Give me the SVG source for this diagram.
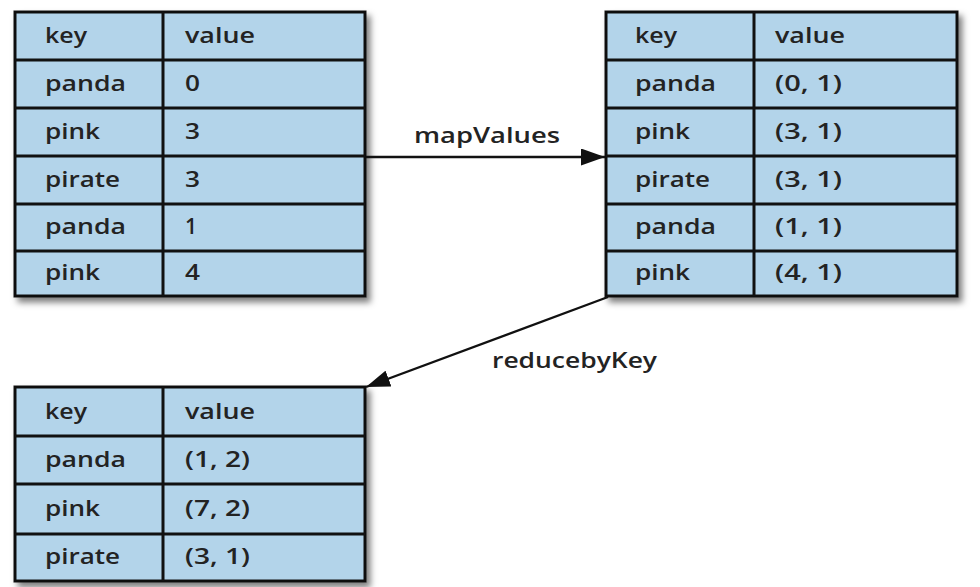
<svg xmlns="http://www.w3.org/2000/svg" width="980" height="587" viewBox="0 0 980 587">
<style>
.cell{fill:#b3d4ea;stroke:#111;stroke-width:3}
.ln{stroke:#111;stroke-width:3;fill:none}
.t{font-family:"Open Sans","DejaVu Sans",sans-serif;font-size:22px;font-weight:600;fill:#232323}
.conn{stroke:#111;stroke-width:2.4;fill:none}
</style>
<defs>
<filter id="sh" x="-10%" y="-10%" width="125%" height="125%">
<feDropShadow dx="4" dy="5" stdDeviation="3" flood-color="#000" flood-opacity="0.5"/>
</filter>
<marker id="arr" viewBox="0 0 10 10" refX="10" refY="5" markerWidth="24" markerHeight="17" markerUnits="userSpaceOnUse" orient="auto" preserveAspectRatio="none">
<path d="M0,0 L10,5 L0,10 z" fill="#111"/>
</marker>
</defs>
<rect width="980" height="587" fill="#fff"/>

<g id="table-input">
<rect class="cell" x="15" y="12" width="350" height="284" filter="url(#sh)"/>
<path class="ln" d="M163,12 V296 M15,60 H365 M15,108 H365 M15,156 H365 M15,204 H365 M15,251 H365"/>
<text class="t" x="45" y="43" textLength="42" lengthAdjust="spacingAndGlyphs">key</text>
<text class="t" x="185" y="43" textLength="70" lengthAdjust="spacingAndGlyphs">value</text>
<text class="t" x="45" y="91" textLength="81" lengthAdjust="spacingAndGlyphs">panda</text>
<text class="t" x="185" y="91" textLength="15" lengthAdjust="spacingAndGlyphs">0</text>
<text class="t" x="45" y="139" textLength="55" lengthAdjust="spacingAndGlyphs">pink</text>
<text class="t" x="185" y="139" textLength="15" lengthAdjust="spacingAndGlyphs">3</text>
<text class="t" x="45" y="187" textLength="75" lengthAdjust="spacingAndGlyphs">pirate</text>
<text class="t" x="185" y="187" textLength="15" lengthAdjust="spacingAndGlyphs">3</text>
<text class="t" x="45" y="234" textLength="81" lengthAdjust="spacingAndGlyphs">panda</text>
<text class="t" x="185" y="234" textLength="12" lengthAdjust="spacingAndGlyphs">1</text>
<text class="t" x="45" y="280" textLength="55" lengthAdjust="spacingAndGlyphs">pink</text>
<text class="t" x="185" y="280" textLength="15" lengthAdjust="spacingAndGlyphs">4</text>
</g>

<g id="table-mapped">
<rect class="cell" x="606" y="12" width="351" height="284" filter="url(#sh)"/>
<path class="ln" d="M754,12 V296 M606,60 H957 M606,108 H957 M606,156 H957 M606,204 H957 M606,251 H957"/>
<text class="t" x="635" y="43" textLength="42" lengthAdjust="spacingAndGlyphs">key</text>
<text class="t" x="775" y="43" textLength="70" lengthAdjust="spacingAndGlyphs">value</text>
<text class="t" x="635" y="91" textLength="81" lengthAdjust="spacingAndGlyphs">panda</text>
<text class="t" x="775" y="91" textLength="67" lengthAdjust="spacingAndGlyphs">(0, 1)</text>
<text class="t" x="635" y="139" textLength="55" lengthAdjust="spacingAndGlyphs">pink</text>
<text class="t" x="775" y="139" textLength="67" lengthAdjust="spacingAndGlyphs">(3, 1)</text>
<text class="t" x="635" y="187" textLength="75" lengthAdjust="spacingAndGlyphs">pirate</text>
<text class="t" x="775" y="187" textLength="67" lengthAdjust="spacingAndGlyphs">(3, 1)</text>
<text class="t" x="635" y="234" textLength="81" lengthAdjust="spacingAndGlyphs">panda</text>
<text class="t" x="775" y="234" textLength="67" lengthAdjust="spacingAndGlyphs">(1, 1)</text>
<text class="t" x="635" y="280" textLength="55" lengthAdjust="spacingAndGlyphs">pink</text>
<text class="t" x="775" y="280" textLength="67" lengthAdjust="spacingAndGlyphs">(4, 1)</text>
</g>

<g id="table-reduced">
<rect class="cell" x="15" y="387" width="350" height="194" filter="url(#sh)"/>
<path class="ln" d="M163,387 V581 M15,436 H365 M15,484 H365 M15,534 H365"/>
<text class="t" x="45" y="419" textLength="42" lengthAdjust="spacingAndGlyphs">key</text>
<text class="t" x="185" y="419" textLength="70" lengthAdjust="spacingAndGlyphs">value</text>
<text class="t" x="45" y="467" textLength="81" lengthAdjust="spacingAndGlyphs">panda</text>
<text class="t" x="185" y="467" textLength="65" lengthAdjust="spacingAndGlyphs">(1, 2)</text>
<text class="t" x="45" y="516" textLength="55" lengthAdjust="spacingAndGlyphs">pink</text>
<text class="t" x="185" y="516" textLength="65" lengthAdjust="spacingAndGlyphs">(7, 2)</text>
<text class="t" x="45" y="564" textLength="75" lengthAdjust="spacingAndGlyphs">pirate</text>
<text class="t" x="185" y="564" textLength="65" lengthAdjust="spacingAndGlyphs">(3, 1)</text>
</g>

<g id="connectors">
<line class="conn" x1="366" y1="157" x2="605" y2="157" marker-end="url(#arr)"/>
<text class="t" x="414" y="143" textLength="146" lengthAdjust="spacingAndGlyphs">mapValues</text>
<line class="conn" x1="608" y1="297" x2="366" y2="387" marker-end="url(#arr)"/>
<text class="t" x="492" y="368" textLength="165" lengthAdjust="spacingAndGlyphs">reducebyKey</text>
</g>
</svg>
